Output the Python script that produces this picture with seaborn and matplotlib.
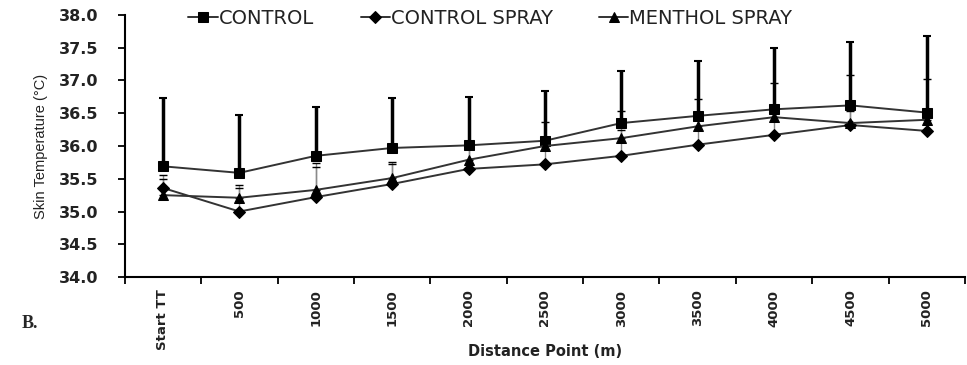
import numpy as np
import pandas as pd
import seaborn as sns
import matplotlib.pyplot as plt
from matplotlib.ticker import FixedLocator

distance_labels = ["Start TT", "500", "1000", "1500", "2000", "2500",
                   "3000", "3500", "4000", "4500", "5000"]

control_mean = [35.69, 35.59, 35.85, 35.97, 36.01, 36.08, 36.35, 36.46, 36.56, 36.62, 36.51]
control_sd = [1.04, 0.88, 0.75, 0.76, 0.74, 0.76, 0.80, 0.84, 0.94, 0.97, 1.17]

control_spray_mean = [35.36, 35.00, 35.22, 35.42, 35.65, 35.72, 35.85, 36.02, 36.17, 36.32, 36.23]
control_spray_sd = [0.14, 0.36, 0.46, 0.30, 0.35, 0.35, 0.40, 0.40, 0.45, 0.21, 0.30]

menthol_mean = [35.25, 35.21, 35.33, 35.51, 35.79, 36.00, 36.12, 36.30, 36.44, 36.35, 36.40]
menthol_sd = [0.31, 0.19, 0.41, 0.24, 0.28, 0.37, 0.42, 0.42, 0.52, 0.73, 0.62]

groups = ["CONTROL", "CONTROL SPRAY", "MENTHOL SPRAY"]
means = [control_mean, control_spray_mean, menthol_mean]

pos = np.arange(len(distance_labels))
df = pd.concat([pd.DataFrame({"pos": pos, "temp": m, "group": g})
                for g, m in zip(groups, means)], ignore_index=True)

sns.set_style("ticks")
plt.rcParams['font.family'] = ['DejaVu Sans']

fig = plt.figure(figsize=(9.67, 3.65), dpi=100)
ax = fig.add_axes([0.129, 0.241, 0.869, 0.718])

# upper error bars only, under the lines
zero = np.zeros(len(pos))
ax.errorbar(pos, menthol_mean, yerr=[zero, menthol_sd], fmt="none",
            ecolor="#8a8a8a", elinewidth=1.0, capsize=3, capthick=1.0, zorder=1)
ax.errorbar(pos, control_spray_mean, yerr=[zero, control_spray_sd], fmt="none",
            ecolor="#8a8a8a", elinewidth=1.0, capsize=3, capthick=1.0, zorder=1)
ax.errorbar(pos, control_mean, yerr=[zero, control_sd], fmt="none",
            ecolor="black", elinewidth=2.5, capsize=3, capthick=1.5, zorder=2)

sns.lineplot(data=df, x="pos", y="temp", hue="group", style="group",
             palette=["#333333"] * 3,
             markers={"CONTROL": "s", "CONTROL SPRAY": "D", "MENTHOL SPRAY": "^"},
             dashes=False, linewidth=1.4, markersize=7, ax=ax, zorder=3)

for line in ax.lines:
    line.set_markerfacecolor("black")
    line.set_markeredgecolor("black")
    if line.get_marker() == "D":
        line.set_markersize(6)

ax.set_xlim(-0.5, 10.5)
ax.set_ylim(34.0, 38.0)
yt = np.arange(34.0, 38.01, 0.5)
ax.set_yticks(yt)
ax.set_yticklabels([f"{v:.1f}" for v in yt], fontsize=11.5, fontweight="bold", color="#222222")
ax.set_xticks(pos)
ax.set_xticklabels(distance_labels, rotation=90, fontsize=9.5, fontweight="bold", color="#222222")
ax.tick_params(axis="x", which="major", length=0, pad=9)
ax.xaxis.set_minor_locator(FixedLocator(np.arange(-0.5, 10.6, 1.0)))
ax.tick_params(axis="x", which="minor", length=5, width=1.3, direction="out", color="black")
ax.tick_params(axis="y", length=5, width=1.3, direction="out", color="black", pad=14)

ax.set_xlabel("Distance Point (m)", fontsize=10.5, fontweight="bold", color="#222222")
ax.xaxis.set_label_coords(0.5, -0.285)
ax.xaxis.label.set_va("center")
ax.set_ylabel("Skin Temperature (°C)", fontsize=10.5, color="#222222", labelpad=8,
              family=["Liberation Sans Narrow", "Liberation Sans"])

for s in ["top", "right"]:
    ax.spines[s].set_visible(False)
for s in ["left", "bottom"]:
    ax.spines[s].set_linewidth(1.5)
    ax.spines[s].set_color("black")

handles, labels = ax.get_legend_handles_labels()
leg = ax.legend(handles, labels, ncol=3, loc="upper left", bbox_to_anchor=(0.055, 1.09),
                frameon=False, fontsize=14, handlelength=1.5, handletextpad=0.05,
                columnspacing=2.4)
for t in leg.get_texts():
    t.set_color("#222222")

fig.text(0.022, 0.1, "B.", fontsize=13, fontweight="bold", family="Liberation Serif")

fig.savefig("out.png", dpi=100, facecolor="white")
